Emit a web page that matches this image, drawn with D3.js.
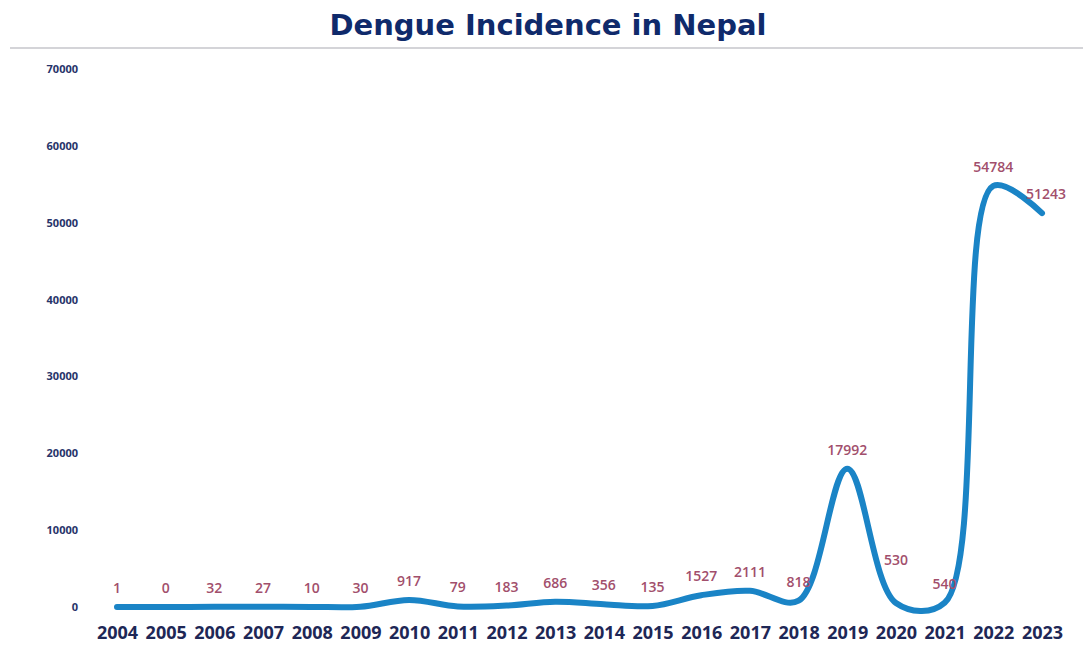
<!DOCTYPE html>
<html>
<head>
<meta charset="utf-8">
<script src="https://cdn.jsdelivr.net/npm/d3@7"></script>
<style>
  body { margin: 0; background: #fff; }
</style>
</head>
<body>
<div class="chart"></div>
<script>
var years = ["2004", "2005", "2006", "2007", "2008", "2009", "2010", "2011", "2012", "2013",
  "2014", "2015", "2016", "2017", "2018", "2019", "2020", "2021", "2022", "2023"];
var cases = [1, 0, 32, 27, 10, 30, 917, 79, 183, 686, 356, 135, 1527, 2111, 818, 17992, 530, 540, 54784, 51243];
// what the data labels read (two are partly hidden behind the line)
var caseLabels = ["1", "0", "32", "27", "10", "30", "917", "79", "183", "686", "356", "135",
  "1527", "2111", "818", "17992", "530", "540", "54784", "51243"];
var yTicks = [0, 10000, 20000, 30000, 40000, 50000, 60000, 70000];

var svgWidth = 1083;
var svgHeight = 648;

var svg = d3.select(".chart")
  .append("svg")
  .attr("width", svgWidth)
  .attr("height", svgHeight);

// title and rule under it
svg.append("text")
  .attr("x", 548)
  .attr("y", 35)
  .attr("text-anchor", "middle")
  .style("font-family", "DejaVu Sans")
  .style("font-weight", "bold")
  .style("font-size", "29px")
  .style("fill", "#0f2a6b")
  .text("Dengue Incidence in Nepal");

svg.append("line")
  .attr("x1", 10).attr("x2", 1083)
  .attr("y1", 48).attr("y2", 48)
  .attr("stroke", "#d4d4d8")
  .attr("stroke-width", 2);

var xScale = d3.scalePoint()
  .domain(years)
  .range([117, 1042]);

var yScale = d3.scaleLinear()
  .domain([0, 70000])
  .range([607, 69]);

// y axis labels only, no axis line
var leftAxis = d3.axisLeft(yScale)
  .tickValues(yTicks)
  .tickFormat(d3.format("d"))
  .tickSize(0)
  .tickPadding(0);

var yAxis = svg.append("g")
  .attr("transform", "translate(78, 0)")
  .call(leftAxis);
yAxis.select(".domain").remove();
yAxis.selectAll("text")
  .style("font-family", "Open Sans")
  .style("font-weight", "bold")
  .style("font-size", "11px")
  .style("fill", "#27346a");

// x axis year labels
var bottomAxis = d3.axisBottom(xScale)
  .tickSize(0)
  .tickPadding(0);

var xAxis = svg.append("g")
  .attr("transform", "translate(0, 626)")
  .call(bottomAxis);
xAxis.select(".domain").remove();
xAxis.selectAll("text")
  .style("font-family", "Open Sans")
  .style("font-weight", "bold")
  .style("font-size", "18px")
  .style("fill", "#1e2756");

// smoothed line
var line = d3.line()
  .x((d, i) => xScale(years[i]))
  .y(d => yScale(d))
  .curve(d3.curveCatmullRom.alpha(0.5));

svg.append("path")
  .datum(cases)
  .attr("d", line)
  .attr("fill", "none")
  .attr("stroke", "#1a84c6")
  .attr("stroke-width", 6)
  .attr("stroke-linecap", "round");

// data labels sit above the points; 2020 label was dragged higher
var labelLift = cases.map((d, i) => years[i] === "2020" ? 38 : 14);

svg.append("g")
  .selectAll("text")
  .data(caseLabels)
  .enter()
  .append("text")
  .attr("x", (d, i) => xScale(years[i]) + (i === years.length - 1 ? 4 : 0))
  .attr("y", (d, i) => yScale(cases[i]) - labelLift[i])
  .attr("text-anchor", "middle")
  .style("font-family", "Open Sans")
  .style("font-weight", "600")
  .style("font-size", "14px")
  .style("fill", "#a24f6c")
  .text(d => d);
</script>
</body>
</html>
